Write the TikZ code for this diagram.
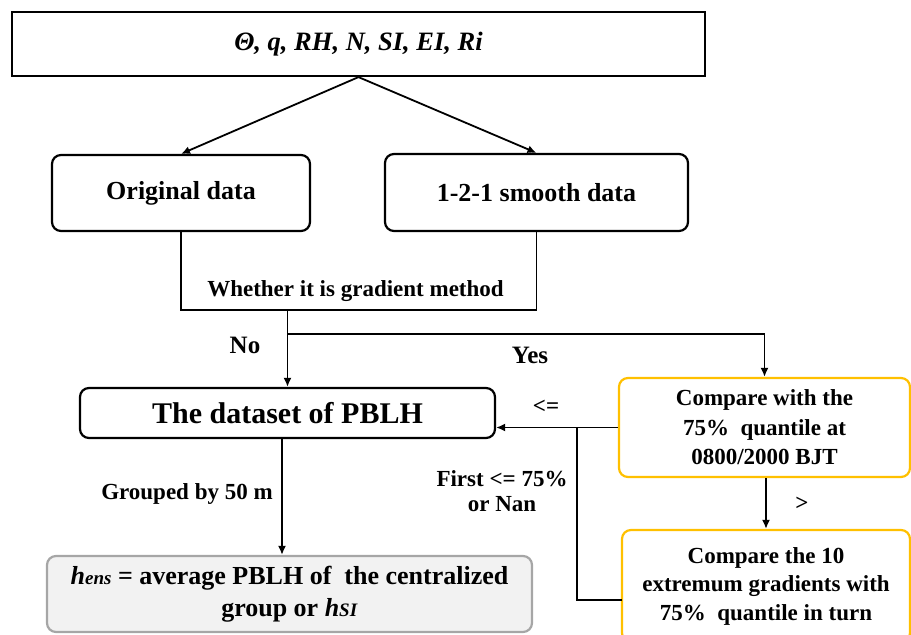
\documentclass[tikz,border=0pt]{standalone}
\usepackage{fontspec}
\setmainfont{Liberation Serif}
\usetikzlibrary{arrows.meta}
\definecolor{gold}{HTML}{FFC000}
\definecolor{gborder}{HTML}{A6A6A6}
\definecolor{gfill}{HTML}{F2F2F2}
\newcommand{\fs}[2]{\fontsize{#1}{#2}\selectfont\bfseries}
\begin{document}
\begin{tikzpicture}[x=1pt,y=-1pt,
  box/.style={draw, line width=2.2pt, rounded corners=9pt, align=center, inner sep=0pt},
  sqbox/.style={draw, line width=2.2pt, align=center, inner sep=0pt},
  goldbox/.style={box, draw=gold, line width=2.2pt},
  graybox/.style={box, draw=gborder, fill=gfill, line width=2.2pt},
  conn/.style={line width=1.8pt},
  arr/.style={conn, -{Latex[length=9pt,width=8pt]}},
  lbl/.style={inner sep=0pt, align=center}]
\useasboundingbox (0,0) rectangle (911,635);
\clip (0,0) rectangle (911,635);
% nodes
\node[sqbox, minimum width=693pt, minimum height=64pt, font=\fs{26.5}{30}] (top) at (358.5,44)
  {\textit{Θ, q, RH, N, SI, EI, Ri}};
\node[box, minimum width=258pt, minimum height=76pt, font=\fs{26}{30}] (orig) at (181,193) {Original data};
\node[box, minimum width=303pt, minimum height=77pt, font=\fs{26}{30}] (smooth) at (536.5,192.5) {1-2-1 smooth data};
\node[box, minimum width=415pt, minimum height=50pt, font=\fs{30}{34}] (dataset) at (287.5,413) {The dataset of PBLH};
\node[goldbox, minimum width=291pt, minimum height=99pt, font=\fs{23}{29.5}] (comp1) at (764.5,427.5)
  {Compare with the\\75\%\ \ quantile at\\0800/2000 BJT};
\node[goldbox, minimum width=288pt, minimum height=112pt, font=\fs{23}{28.5}] (comp2) at (766,586)
  {Compare the 10\\extremum gradients with\\75\%\ \ quantile in turn};
\node[graybox, minimum width=485pt, minimum height=76pt, font=\fs{26}{32}] (hens) at (289.5,594)
  {\textit{h}{\fontsize{19}{20}\selectfont\textit{ens}} = average PBLH of\ \ the centralized\\group or \textit{h}{\fontsize{19}{20}\selectfont\textit{SI}}};
% labels
\node[lbl, font=\fs{23}{27}] (whether) at (355.5,291) {Whether it is gradient method};
\node[lbl, font=\fs{25}{28}] (no) at (245,345) {No};
\node[lbl, font=\fs{25}{28}] (yes) at (530,355) {Yes};
\node[lbl, font=\fs{23}{27}] (le) at (546,407) {<=};
\node[lbl, font=\fs{23}{25}] (first) at (502,491) {First <= 75\%\\or Nan};
\node[lbl, font=\fs{23}{27}] (gt) at (802,504) {>};
\node[lbl, font=\fs{23}{27}] (grouped) at (187,494) {Grouped by 50 m};
% junction coordinates
\coordinate (jl) at (181,310);
\coordinate (jr) at (536.5,310);
\coordinate (jm) at (287.5,310);
\coordinate (jb) at (287.5,334);
\coordinate (jy) at (764.5,334);
\coordinate (jv) at (577,428);
\coordinate (jc2) at (622,600);
% connectors
\draw[arr] (top.south) -- (orig.north);
\draw[arr] (top.south) -- (smooth.north);
\draw[conn] (orig.south) -- (jl) -- (jr) -- (smooth.south);
\draw[arr] (jm) -- (dataset.north);
\draw[arr] (jb) -- (jy) -- (comp1.north);
\draw[arr] (comp1.west) -- (comp1.west -| dataset.east);
\draw[conn] (jc2) -| (jv);
\draw[arr] (comp2.north |- comp1.south) -- (comp2.north);
\draw[arr] ([xshift=-5.5pt]dataset.south) -- ([xshift=-5.5pt]dataset.south |- hens.north);
\end{tikzpicture}
\end{document}
